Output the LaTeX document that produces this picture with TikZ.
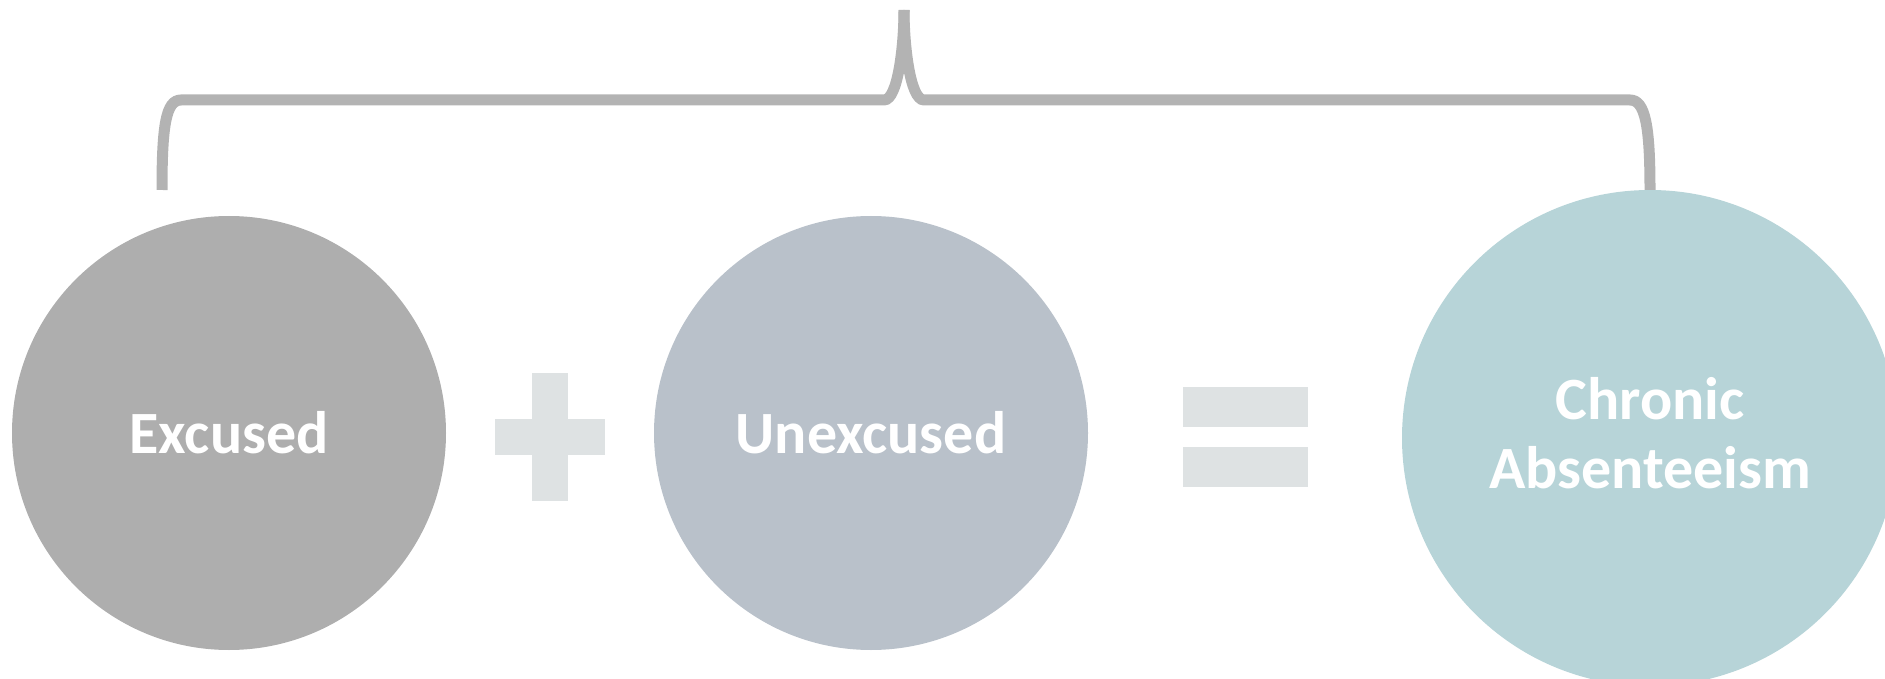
\documentclass[tikz,border=0pt]{standalone}
\usepackage{fontspec}
\setmainfont{Carlito}
\definecolor{excusedgray}{HTML}{AEAEAE}
\definecolor{unexcusedgray}{HTML}{B9C1CA}
\definecolor{chronicblue}{HTML}{B7D4D8}
\definecolor{signgray}{HTML}{DEE2E3}
\definecolor{bracegray}{HTML}{B3B3B3}
\tikzset{
  bubble/.style={circle,inner sep=0pt,text=white,align=center,
    font=\bfseries\fontsize{60}{69}\selectfont},
  signbar/.style={fill=signgray},
  bracket/.style={draw=bracegray,line width=11pt}
}
\begin{document}
\begin{tikzpicture}[x=1pt,y=-1pt]
\useasboundingbox (0,0) rectangle (1885,679);

%\tikzset{bubble/.append style={draw}}

\node[bubble,fill=excusedgray,minimum size=434pt] (excused) at (229,433) {Excused};
\node[bubble,fill=unexcusedgray,minimum size=434pt] (unexcused) at (871,433) {Unexcused};
\node[bubble,fill=chronicblue,minimum size=496pt,text depth=10pt] (chronic) at (1650,438) {Chronic\\Absenteeism};

% plus and equals
\fill[signbar] (532,373) rectangle (568,501);
\fill[signbar] (495,419) rectangle (605,455);
\fill[signbar] (1183,387) rectangle (1308,427);
\fill[signbar] (1183,447) rectangle (1308,487);

\coordinate (bleft) at (162,190);
\coordinate (peak) at (904,10);
\coordinate (bright) at (chronic.north);
\draw[bracket] (bleft) .. controls (162,125) and (166,100) .. (181,100) -- (884,100)
  .. controls (898,100) and (904,45) .. (peak);
\draw[bracket] (peak) .. controls (904,45) and (910,100) .. (924,100) -- (1630,100)
  .. controls (1645,100) and (1650,125) .. (bright);
\end{tikzpicture}
\end{document}
